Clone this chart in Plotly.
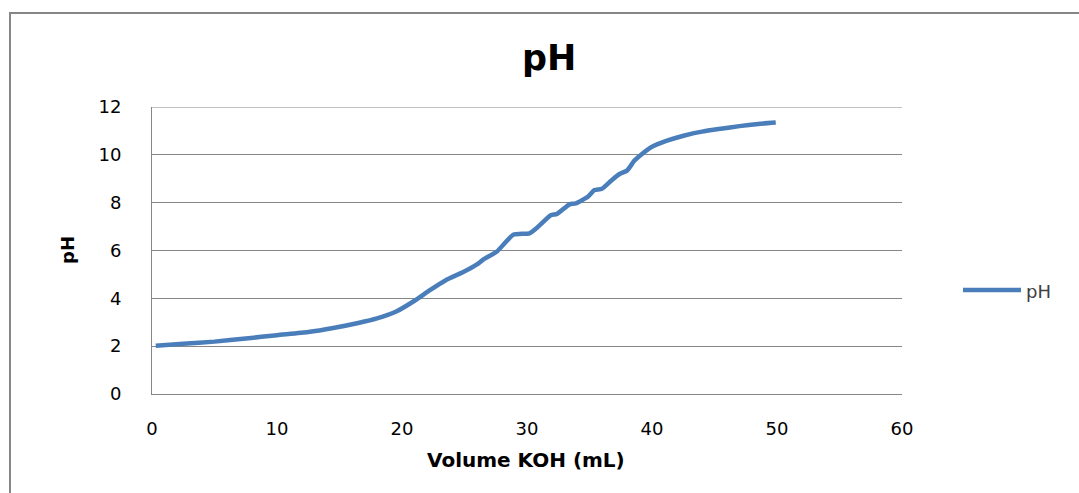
import plotly.graph_objects as go

volume_ml = [0.3, 2.5, 5.0, 7.5, 10.0, 12.5, 14.5, 16.5, 18.0, 19.5, 21.0, 22.2, 23.5, 24.9,
             26.0, 26.5, 27.6, 28.9, 30.2, 30.8, 31.9, 32.4, 33.4, 33.9, 34.9, 35.4, 36.0,
             36.8, 37.4, 38.0, 38.6, 39.4, 39.9, 41.2, 42.6, 44.0, 45.5, 47.0, 48.5, 49.9]
ph_values = [2.02, 2.10, 2.19, 2.32, 2.46, 2.59, 2.76, 2.97, 3.16, 3.44, 3.90, 4.33, 4.76, 5.10,
             5.42, 5.62, 5.96, 6.66, 6.72, 6.95, 7.47, 7.53, 7.93, 7.97, 8.26, 8.53, 8.58,
             8.95, 9.20, 9.34, 9.76, 10.12, 10.31, 10.59, 10.81, 10.97, 11.09, 11.20, 11.29, 11.35]
x_ticks = [0, 10, 20, 30, 40, 50, 60]
y_ticks = [0, 2, 4, 6, 8, 10, 12]
series_name = "pH"

W, H = 1079, 493
L, R, T, B = 152, 902, 107, 394
LINE_COLOR = "#4A7EBB"

fig = go.Figure()
fig.add_trace(go.Scatter(
    x=volume_ml, y=ph_values, mode="lines", name=series_name, showlegend=False,
    line=dict(color=LINE_COLOR, width=4.5, shape="spline", smoothing=0.5),
))

def px_x(p):
    return (p - L) / (R - L)

def px_y(p):
    return (B - p) / (B - T)

fig.update_layout(
    width=W, height=H,
    margin=dict(l=L, r=W - R, t=T, b=H - B),
    paper_bgcolor="white", plot_bgcolor="white",
    showlegend=False,
    xaxis=dict(range=[0, 60], tickvals=x_ticks, showgrid=False, zeroline=False,
               showline=True, linecolor="#868686", linewidth=1,
               ticks="", ticklabelstandoff=18,
               tickfont=dict(family="DejaVu Sans", size=18, color="#000000")),
    yaxis=dict(range=[0, 12], tickvals=y_ticks, showgrid=True, gridcolor="#868686",
               gridwidth=1, zeroline=False, showline=True, linecolor="#868686",
               linewidth=1, ticks="", ticklabelstandoff=26,
               tickfont=dict(family="DejaVu Sans", size=18, color="#000000")),
    annotations=[
        dict(text="<b>pH</b>", xref="paper", yref="paper", x=px_x(549), y=px_y(58),
             xanchor="center", yanchor="middle", showarrow=False,
             font=dict(family="DejaVu Sans", size=35, color="#000000")),
        dict(text="<b>pH</b>", xref="paper", yref="paper", x=px_x(67), y=px_y(250),
             xanchor="center", yanchor="middle", showarrow=False, textangle=-90,
             font=dict(family="DejaVu Sans", size=18, color="#000000")),
        dict(text="<b>Volume KOH (mL)</b>", xref="paper", yref="paper", x=px_x(526), y=px_y(460),
             xanchor="center", yanchor="middle", showarrow=False,
             font=dict(family="DejaVu Sans", size=20, color="#000000")),
        dict(text=series_name, xref="paper", yref="paper", x=px_x(1024), y=px_y(291),
             xanchor="left", yanchor="middle", showarrow=False,
             font=dict(family="DejaVu Sans", size=18, color="#404040")),
    ],
    shapes=[
        dict(type="rect", xref="paper", yref="paper",
             x0=px_x(10), x1=px_x(1090), y0=px_y(510), y1=px_y(13),
             line=dict(color="#868686", width=2), fillcolor="rgba(0,0,0,0)", layer="below"),
        dict(type="line", xref="x", yref="y", x0=0, x1=60, y0=12, y1=12,
             line=dict(color="#868686", width=1), layer="below"),
        dict(type="line", xref="paper", yref="paper", x0=px_x(963), x1=px_x(1021),
             y0=px_y(290), y1=px_y(290), line=dict(color=LINE_COLOR, width=4.5)),
    ],
)

fig.write_html("out.html")
